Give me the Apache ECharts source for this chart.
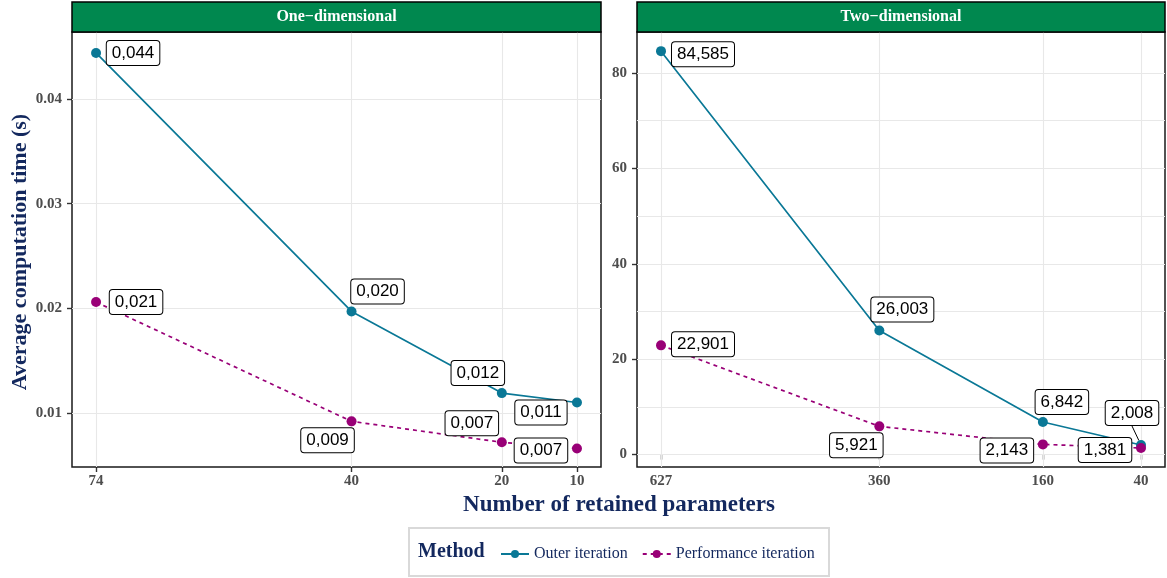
<!DOCTYPE html>
<html><head><meta charset="utf-8">
<script src="https://cdn.jsdelivr.net/npm/echarts@6/dist/echarts.min.js"></script>
<style>html,body{margin:0;padding:0;background:#fff}#c{width:1167px;height:578px}</style>
</head><body><div id="c"></div>
<script>
// ---- data ----
var params1D = [74, 40, 20, 10];
var outer1D = [0.0444, 0.0197, 0.0119, 0.0110];
var perf1D = [0.0206, 0.0092, 0.0072, 0.0066];
var params2D = [627, 360, 160, 40];
var outer2D = [84.585, 26.003, 6.842, 2.008];
var perf2D = [22.901, 5.921, 2.143, 1.381];
var yTicks1D = [0.01, 0.02, 0.03, 0.04];
var yTicks2D = [0, 20, 40, 60, 80];
var yGrid1D = [0.01, 0.015, 0.02, 0.025, 0.03, 0.035, 0.04, 0.045];
var yGrid2D = [0, 10, 20, 30, 40, 50, 60, 70, 80];
var panelTitles = ['One\u2212dimensional', 'Two\u2212dimensional'];
var seriesNames = ['Outer iteration', 'Performance iteration'];

// ---- layout (label offsets, px) ----
var offOuter1D = [[37,0],[26,-20],[-24,-20],[-36,10]];
var offPerf1D = [[40,0],[-24,19],[-30,-19],[-36,2]];
var offOuter2D = [[42,3],[23,-21],[19,-20],[-9,-32]];
var offPerf2D = [[42,-1],[-23,19],[-36,6],[-36,2]];

var C_OUT = '#0a7896', C_PERF = '#990077', NAVY = '#13285e';
var SERIF = '"Liberation Serif","DejaVu Serif",serif';

function fmt(v){ return v.toFixed(3).replace('.', ','); }
function mk(xs, ys, offs){
  return xs.map(function(x,i){
    var d = {value:[x, ys[i]], label:{offset: offs[i]}};
    if (ys[i] === 2.008) d.labelLine = {show:true, lineStyle:{color:'#000', width:1}};
    return d;
  });
}
var labelStyle = {
  show:true, position:'inside', align:'center', verticalAlign:'middle',
  formatter:function(p){ return fmt(p.value[1]); },
  fontFamily:'"Liberation Sans",Arial,sans-serif', fontSize:17, color:'#000',
  backgroundColor:'#fff', borderColor:'#000', borderWidth:1, borderRadius:3,
  padding:[4,5,3,5]
};
function lineSeries(name, xi, data, color, dashed){
  return {
    name:name, type:'line', xAxisIndex:xi, yAxisIndex:xi, data:data,
    symbol:'circle', symbolSize:10, z:5,
    itemStyle:{color:color}, lineStyle:{color:color, width:1.7, type: dashed ? [4,4] : 'solid'},
    label:labelStyle, labelLine:{show:false}, emphasis:{disabled:true}, animation:false
  };
}
function gridSeries(xi, xs, ys){
  var d = xs.map(function(x){return {xAxis:x};}).concat(ys.map(function(y){return {yAxis:y};}));
  return {
    name:'grid'+xi, type:'line', xAxisIndex:xi, yAxisIndex:xi, data:[], z:1, animation:false,
    markLine:{silent:true, symbol:['none','none'], label:{show:false}, animation:false,
      lineStyle:{color:'#e8e8e8', width:1.1, type:'solid'}, data:d}
  };
}
function xAxis(gi, ticks, min, max){
  return {type:'value', gridIndex:gi, inverse:true, min:min, max:max,
    splitLine:{show:false}, axisLine:{show:false},
    axisTick:{show:true, length:5, customValues:ticks, lineStyle:{color:'#333', width:1.4}},
    axisLabel:{customValues:ticks, margin:7, fontFamily:SERIF, fontWeight:'bold', fontSize:15, color:'#4d4d4d'}};
}
function yAxis(gi, ticks, min, max){
  return {type:'value', gridIndex:gi, min:min, max:max,
    splitLine:{show:false}, axisLine:{show:false},
    axisTick:{show:true, length:5, customValues:ticks, lineStyle:{color:'#333', width:1.4}},
    axisLabel:{customValues:ticks, margin:10, fontFamily:SERIF, fontWeight:'bold', fontSize:15, color:'#4d4d4d',
      formatter:function(v){ return String(v); }}};
}

var chart = echarts.init(document.getElementById('c'), null, {renderer:'canvas'});
chart.setOption({
  backgroundColor:'#fff',
  animation:false,
  grid:[
    {left:72, top:32, width:529, height:435, show:true, borderColor:'#1a1a1a', borderWidth:1.5, backgroundColor:'transparent', z:3},
    {left:637, top:32, width:528, height:435, show:true, borderColor:'#1a1a1a', borderWidth:1.5, backgroundColor:'transparent', z:3}
  ],
  xAxis:[xAxis(0, params1D, 6.8, 77.2), xAxis(1, params2D, 10.65, 656.35)],
  yAxis:[yAxis(0, yTicks1D, 0.00484, 0.0464), yAxis(1, yTicks2D, -2.6, 88.6)],
  legend:{
    data:seriesNames, left:495, top:541, itemWidth:28, itemHeight:10, itemGap:14,
    textStyle:{fontFamily:SERIF, fontSize:16, color:NAVY}
  },
  series:[
    gridSeries(0, params1D, yGrid1D), gridSeries(1, params2D, yGrid2D),
    lineSeries(seriesNames[0], 0, mk(params1D, outer1D, offOuter1D), C_OUT, false),
    lineSeries(seriesNames[1], 0, mk(params1D, perf1D, offPerf1D), C_PERF, true),
    lineSeries(seriesNames[0], 1, mk(params2D, outer2D, offOuter2D), C_OUT, false),
    lineSeries(seriesNames[1], 1, mk(params2D, perf2D, offPerf2D), C_PERF, true)
  ],
  graphic:[
    {type:'rect', shape:{x:72, y:2, width:529, height:30}, style:{fill:'#00884f', stroke:'#000', lineWidth:1.5}, z:10},
    {type:'text', x:336.5, y:17, style:{text:panelTitles[0], fill:'#fff', font:'bold 16px '+SERIF, align:'center', verticalAlign:'middle'}, z:11},
    {type:'rect', shape:{x:637, y:2, width:528, height:30}, style:{fill:'#00884f', stroke:'#000', lineWidth:1.5}, z:10},
    {type:'text', x:901, y:17, style:{text:panelTitles[1], fill:'#fff', font:'bold 16px '+SERIF, align:'center', verticalAlign:'middle'}, z:11},
    {type:'text', x:619, y:505, style:{text:'Number of retained parameters', fill:NAVY, font:'bold 23px '+SERIF, align:'center', verticalAlign:'middle'}},
    {type:'text', x:20, y:252, rotation:Math.PI/2, style:{text:'Average computation time (s)', fill:NAVY, font:'bold 22px '+SERIF, align:'center', verticalAlign:'middle'}},
    {type:'rect', shape:{x:409, y:528, width:420, height:48}, style:{fill:'none', stroke:'#d9d9d9', lineWidth:2}},
    {type:'text', x:418, y:552, style:{text:'Method', fill:NAVY, font:'bold 20px '+SERIF, align:'left', verticalAlign:'middle'}}
  ]
});
</script></body></html>
